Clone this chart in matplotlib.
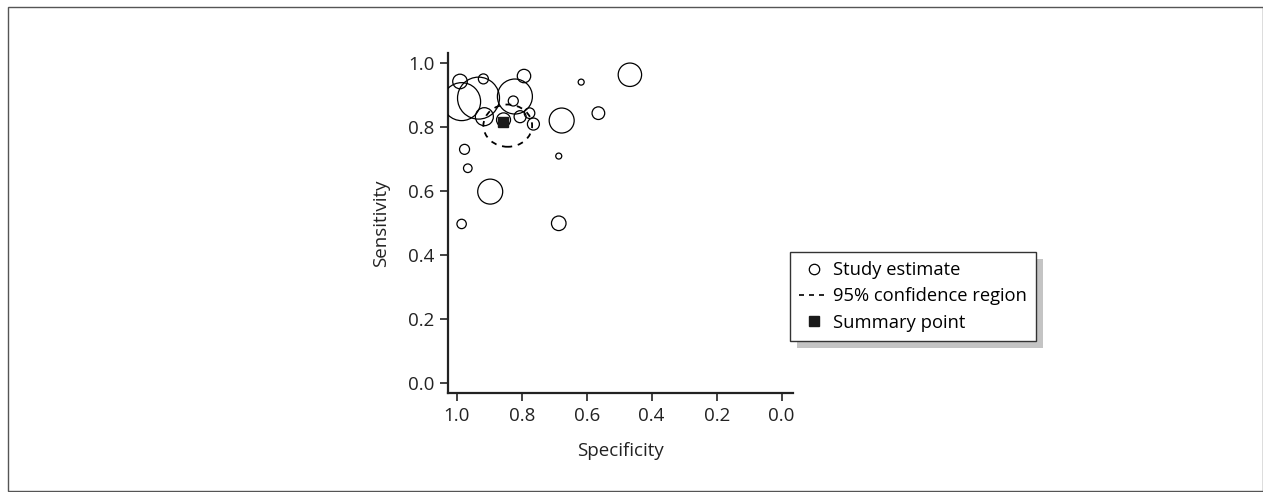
import matplotlib
matplotlib.use("Agg")
import matplotlib.pyplot as plt
from matplotlib.lines import Line2D
from matplotlib.patches import Ellipse, Rectangle

plt.rcParams['font.family'] = ['Open Sans', 'DejaVu Sans']

# Per-study specificity / sensitivity and study size (marker area scales with size)
specificity = [0.990, 0.918, 0.793, 0.985, 0.933, 0.821, 0.826, 0.915, 0.856, 0.805,
               0.776, 0.764, 0.677, 0.564, 0.617, 0.467, 0.976, 0.966, 0.897, 0.985,
               0.686, 0.686]
sensitivity = [0.943, 0.951, 0.960, 0.880, 0.891, 0.896, 0.882, 0.833, 0.823, 0.833,
               0.844, 0.810, 0.821, 0.844, 0.941, 0.964, 0.731, 0.672, 0.599, 0.498,
               0.500, 0.710]
study_size = [265, 125, 225, 1800, 2200, 1530, 125, 405, 245, 180,
              140, 180, 780, 200, 45, 685, 125, 92, 780, 110,
              265, 45]

# Summary estimate and its 95% confidence region
summary_spec = 0.858
summary_sens = 0.816
region_center = (0.843, 0.805)
region_halfwidth = (0.075, 0.066)

tick_values = [0.0, 0.2, 0.4, 0.6, 0.8, 1.0]
tick_labels = ['0.0', '0.2', '0.4', '0.6', '0.8', '1.0']

W, H = 1263, 492
fig = plt.figure(figsize=(W / 100, H / 100), dpi=100)
ax = fig.add_axes([448.3 / W, 1 - 393.3 / H, 345 / W, 340 / H])

size_scale = 0.415
ax.scatter(specificity, sensitivity, s=[n * size_scale for n in study_size],
           facecolors='none', edgecolors='black', linewidths=0.9, zorder=3)

ax.add_patch(Ellipse(region_center, 2 * region_halfwidth[0], 2 * region_halfwidth[1],
                     fill=False, edgecolor='black', linewidth=1.3,
                     linestyle=(0, (3.2, 3.2)), zorder=2))

ax.plot([summary_spec], [summary_sens], marker='s', markersize=6.8,
        color='#1a1a1a', linestyle='none', zorder=4)

ax.set_xlim(1.026, -0.036)
ax.set_ylim(-0.031, 1.031)
ax.set_xticks(tick_values)
ax.set_xticklabels(tick_labels)
ax.set_yticks(tick_values)
ax.set_yticklabels(tick_labels)
ax.tick_params(axis='both', direction='out', length=5.8, width=1.2,
               labelsize=13.5, colors='#222222', pad=4)
for side in ('top', 'right'):
    ax.spines[side].set_visible(False)
for side in ('left', 'bottom'):
    ax.spines[side].set_linewidth(1.6)
    ax.spines[side].set_color('#222222')

ax.set_xlabel('Specificity', fontsize=13.5, color='#222222', labelpad=12)
ax.set_ylabel('Sensitivity', fontsize=13.5, color='#222222', labelpad=13)

handles = [
    Line2D([], [], marker='o', markersize=7.5, markerfacecolor='none',
           markeredgecolor='black', markeredgewidth=0.9, linestyle='none'),
    Line2D([], [], color='black', linewidth=1.2, linestyle=(0, (3, 3))),
    Line2D([], [], marker='s', markersize=6.5, color='#1a1a1a', linestyle='none'),
]
labels = ['Study estimate', '95% confidence region', 'Summary point']
leg = fig.legend(handles, labels, loc='upper left',
                 bbox_to_anchor=(790 / W, 1 - 252 / H),
                 frameon=True, fancybox=False, fontsize=13.2, handlelength=1.6,
                 handletextpad=0.25, borderpad=0.5, labelspacing=0.45,
                 borderaxespad=0, edgecolor='#333333', facecolor='white',
                 framealpha=1.0)
leg.get_frame().set_linewidth(1.0)
leg.set_zorder(5)

# Drop shadow behind the legend box
fig.canvas.draw()
bb = leg.get_window_extent()
shadow = Rectangle((bb.x0 + 7, bb.y0 - 7), bb.width, bb.height,
                   transform=None, facecolor='#c4c4c4', edgecolor='none', zorder=4)
fig.add_artist(shadow)

# Outer frame around the whole figure
frame = Rectangle((7.5 / W, 1 / H), (W - 8) / W, (H - 7.5) / H,
                  transform=fig.transFigure, fill=False,
                  edgecolor='#555555', linewidth=1.0)
fig.add_artist(frame)

fig.savefig('out.png', dpi=100)
